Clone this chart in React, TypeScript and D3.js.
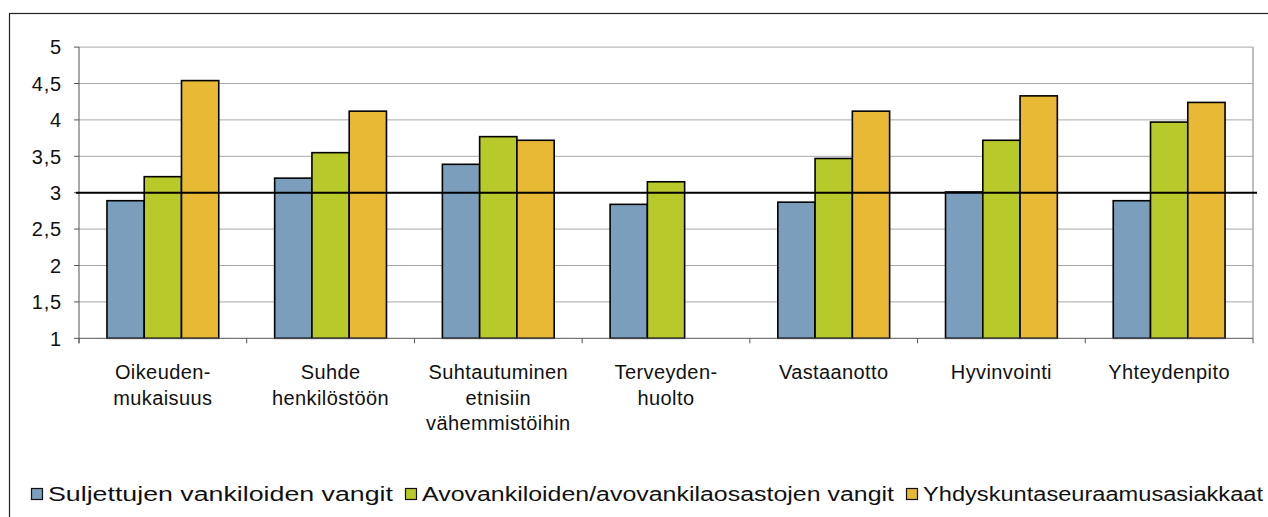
import React from "react";
import * as d3 from "d3";

const categories: string[][] = [
  ["Oikeuden-", "mukaisuus"],
  ["Suhde", "henkilöstöön"],
  ["Suhtautuminen", "etnisiin", "vähemmistöihin"],
  ["Terveyden-", "huolto"],
  ["Vastaanotto"],
  ["Hyvinvointi"],
  ["Yhteydenpito"],
];
const seriesNames = [
  "Suljettujen vankiloiden vangit",
  "Avovankiloiden/avovankilaosastojen vangit",
  "Yhdyskuntaseuraamusasiakkaat",
];
const suljetut = [2.89, 3.2, 3.39, 2.84, 2.87, 3.01, 2.89];
const avo = [3.22, 3.55, 3.77, 3.15, 3.47, 3.72, 3.97];
const yhdyskunta: (number | null)[] = [4.54, 4.12, 3.72, null, 4.12, 4.33, 4.24];
const yTicks = [1, 1.5, 2, 2.5, 3, 3.5, 4, 4.5, 5];
const referenceValue = 3;

const colors = ["#7b9ebd", "#b8c92a", "#e8b935"];

export default function App() {
  const W = 1268;
  const H = 517;
  const left = 79;
  const right = 1253;
  const top = 47.1;
  const bottom = 338.3;
  const font = "'Liberation Sans', Arial, sans-serif";

  const y = d3.scaleLinear().domain([1, 5]).range([bottom, top]);
  const x0 = d3
    .scaleBand<number>()
    .domain(categories.map((_, i) => i))
    .range([left, right])
    .padding(0);
  const x1 = d3
    .scaleBand<number>()
    .domain([0, 1, 2])
    .range([0, x0.bandwidth()])
    .paddingInner(0)
    .paddingOuter(0.75);

  const series = [suljetut, avo, yhdyskunta];
  const boundaries = categories.map((_, i) => x0(i)!).concat([right]);

  // legend layout
  const legendWidths = [345, 472, 340];
  const legendY = 488;
  let lx = 31;
  const legendItems = seriesNames.map((name, i) => {
    const item = { name, sx: lx, tx: lx + 17, w: legendWidths[i], color: colors[i] };
    lx = lx + 17 + legendWidths[i] + 12;
    return item;
  });

  return (
    <svg
      width={W}
      height={H}
      style={{ position: "absolute", left: 0, top: 0, background: "#fff" }}
      fontFamily={font}
    >
      <rect x={0} y={0} width={W} height={H} fill="#fff" />
      <rect x={9.5} y={13.5} width={W + 20} height={H + 20} fill="none" stroke="#222" strokeWidth={1.2} />

      {/* gridlines */}
      {yTicks.slice(1).map((t) => (
        <line key={"g" + t} x1={left} x2={right} y1={y(t)} y2={y(t)} stroke="#a8a8a8" strokeWidth={1} />
      ))}
      <line x1={right} x2={right} y1={top} y2={bottom} stroke="#a8a8a8" strokeWidth={1.5} />

      {/* y axis */}
      <line x1={left} x2={left} y1={top} y2={bottom + 5} stroke="#555" strokeWidth={1} />
      {yTicks.map((t) => (
        <g key={"yt" + t}>
          <line x1={left - 5} x2={left} y1={y(t)} y2={y(t)} stroke="#555" strokeWidth={1} />
          <text
            x={62}
            y={y(t)}
            dy="0.36em"
            textAnchor="end"
            fontSize={20}
            fill="#111"
            style={{ letterSpacing: "0.8px" }}
          >
            {String(t).replace(".", ",")}
          </text>
        </g>
      ))}

      {/* bars */}
      {categories.map((_, ci) => (
        <g key={"c" + ci} transform={`translate(${x0(ci)},0)`}>
          {series.map((s, si) => {
            const v = s[ci];
            if (v == null) return null;
            return (
              <rect
                key={si}
                x={x1(si)}
                y={y(v)}
                width={x1.bandwidth()}
                height={y(1) - y(v)}
                fill={colors[si]}
                stroke="#000"
                strokeWidth={1.6}
              />
            );
          })}
        </g>
      ))}

      {/* x axis */}
      <line x1={left} x2={right} y1={bottom} y2={bottom} stroke="#555" strokeWidth={1} />
      {boundaries.map((b, i) => (
        <line key={"xt" + i} x1={b} x2={b} y1={bottom} y2={bottom + 5} stroke="#555" strokeWidth={1} />
      ))}

      {/* reference line */}
      <line x1={76} x2={1257} y1={y(referenceValue)} y2={y(referenceValue)} stroke="#000" strokeWidth={2} />

      {/* category labels */}
      {categories.map((lines, ci) => (
        <text
          key={"xl" + ci}
          x={x0(ci)! + x0.bandwidth() / 2}
          y={379}
          textAnchor="middle"
          fontSize={20}
          fill="#111"
          style={{ letterSpacing: "0.4px" }}
        >
          {lines.map((l, li) => (
            <tspan key={li} x={x0(ci)! + x0.bandwidth() / 2} dy={li === 0 ? 0 : 25.5}>
              {l}
            </tspan>
          ))}
        </text>
      ))}

      {/* legend */}
      {legendItems.map((it, i) => (
        <g key={"lg" + i}>
          <rect x={it.sx + 0.5} y={legendY + 0.5} width={11} height={11} fill={it.color} stroke="#111" strokeWidth={1.2} />
          <text
            x={it.tx}
            y={legendY + 13}
            fontSize={20}
            fill="#111"
            textLength={it.w}
            lengthAdjust="spacingAndGlyphs"
          >
            {it.name}
          </text>
        </g>
      ))}
    </svg>
  );
}
